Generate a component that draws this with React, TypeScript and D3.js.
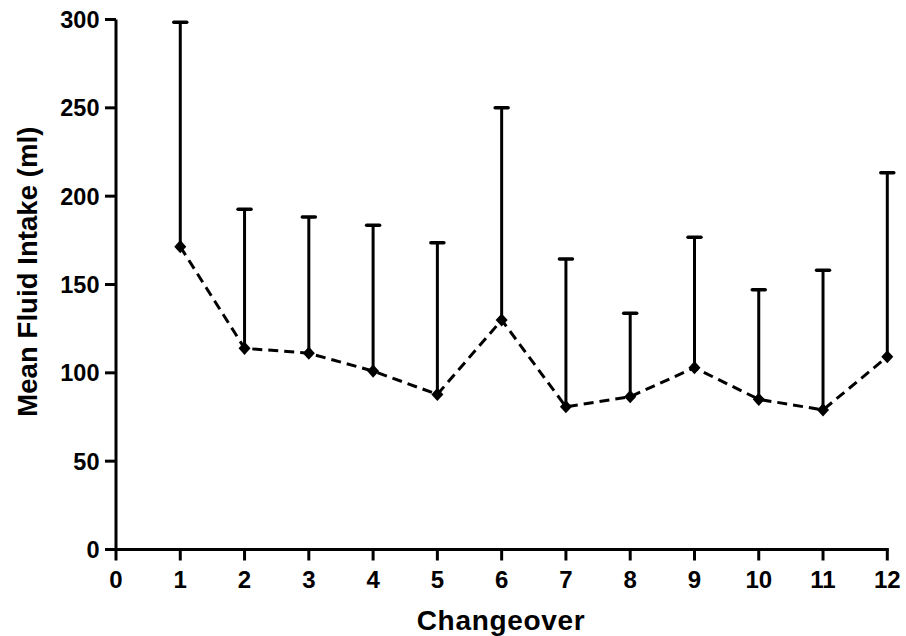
import React from "react";
import * as d3 from "d3";

const changeovers = [1, 2, 3, 4, 5, 6, 7, 8, 9, 10, 11, 12];
const meanIntake = [171.4, 113.9, 111.1, 101, 87.8, 129.9, 80.8, 86.5, 102.9, 85, 79, 109.1];
const upperError = [298.4, 192.6, 188.2, 183.5, 173.7, 250.1, 164.4, 133.7, 176.7, 147, 158, 213.3];
const xTicks = [0, 1, 2, 3, 4, 5, 6, 7, 8, 9, 10, 11, 12];
const yTicks = [0, 50, 100, 150, 200, 250, 300];

const W = 906;
const H = 636;
const left = 116;
const right = 887.3;
const top = 19.5;
const bottom = 549.5;
const FONT = "'Liberation Sans', Arial, sans-serif";

export default function App() {
  const x = d3.scaleLinear().domain([0, 12]).range([left, right]);
  const y = d3.scaleLinear().domain([0, 300]).range([bottom, top]);
  const line = d3
    .line<number>()
    .x((_, i) => x(changeovers[i]))
    .y((d) => y(d));
  const diamond = d3.symbol().type(d3.symbolDiamond2).size(92)();

  return (
    <svg
      width={W}
      height={H}
      style={{ position: "absolute", left: 0, top: 0, background: "#fff" }}
    >
      {changeovers.map((c, i) => (
        <g key={"e" + c}>
          <line
            x1={x(c)}
            x2={x(c)}
            y1={y(meanIntake[i])}
            y2={y(upperError[i])}
            stroke="#000"
            strokeWidth={3}
          />
          <line
            x1={x(c) - 6.5}
            x2={x(c) + 6.5}
            y1={y(upperError[i])}
            y2={y(upperError[i])}
            stroke="#000"
            strokeWidth={3.5}
            strokeLinecap="round"
          />
        </g>
      ))}
      <path
        d={line(meanIntake) || ""}
        fill="none"
        stroke="#000"
        strokeWidth={3}
        strokeDasharray="10,6"
      />
      {changeovers.map((c, i) => (
        <path
          key={"m" + c}
          d={diamond || ""}
          transform={`translate(${x(c)},${y(meanIntake[i])}) scale(1,1.1)`}
          fill="#000"
        />
      ))}
      <line x1={left} x2={left} y1={top} y2={bottom + 1.5} stroke="#000" strokeWidth={3} />
      <line x1={left - 1.5} x2={right + 1.5} y1={bottom} y2={bottom} stroke="#000" strokeWidth={3} />
      {yTicks.map((t) => (
        <g key={"y" + t}>
          <line x1={left - 11} x2={left} y1={y(t)} y2={y(t)} stroke="#000" strokeWidth={3} />
          <text
            x={left - 16.5}
            y={y(t)}
            dy="0.36em"
            textAnchor="end"
            fontFamily={FONT}
            fontWeight="bold"
            fontSize={23.5}
          >
            {t}
          </text>
        </g>
      ))}
      {xTicks.map((t) => (
        <g key={"x" + t}>
          <line x1={x(t)} x2={x(t)} y1={bottom} y2={bottom + 11} stroke="#000" strokeWidth={3} />
          <text
            x={x(t)}
            y={587.5}
            textAnchor="middle"
            fontFamily={FONT}
            fontWeight="bold"
            fontSize={24}
          >
            {t}
          </text>
        </g>
      ))}
      <text
        x={416.7}
        y={630}
        textLength={168}
        lengthAdjust="spacing"
        fontFamily={FONT}
        fontWeight="bold"
        fontSize={28}
      >
        Changeover
      </text>
      <text
        transform={`translate(37,416.7) rotate(-90)`}
        textLength={290}
        lengthAdjust="spacing"
        fontFamily={FONT}
        fontWeight="bold"
        fontSize={27.5}
      >
        Mean Fluid Intake (ml)
      </text>
    </svg>
  );
}
